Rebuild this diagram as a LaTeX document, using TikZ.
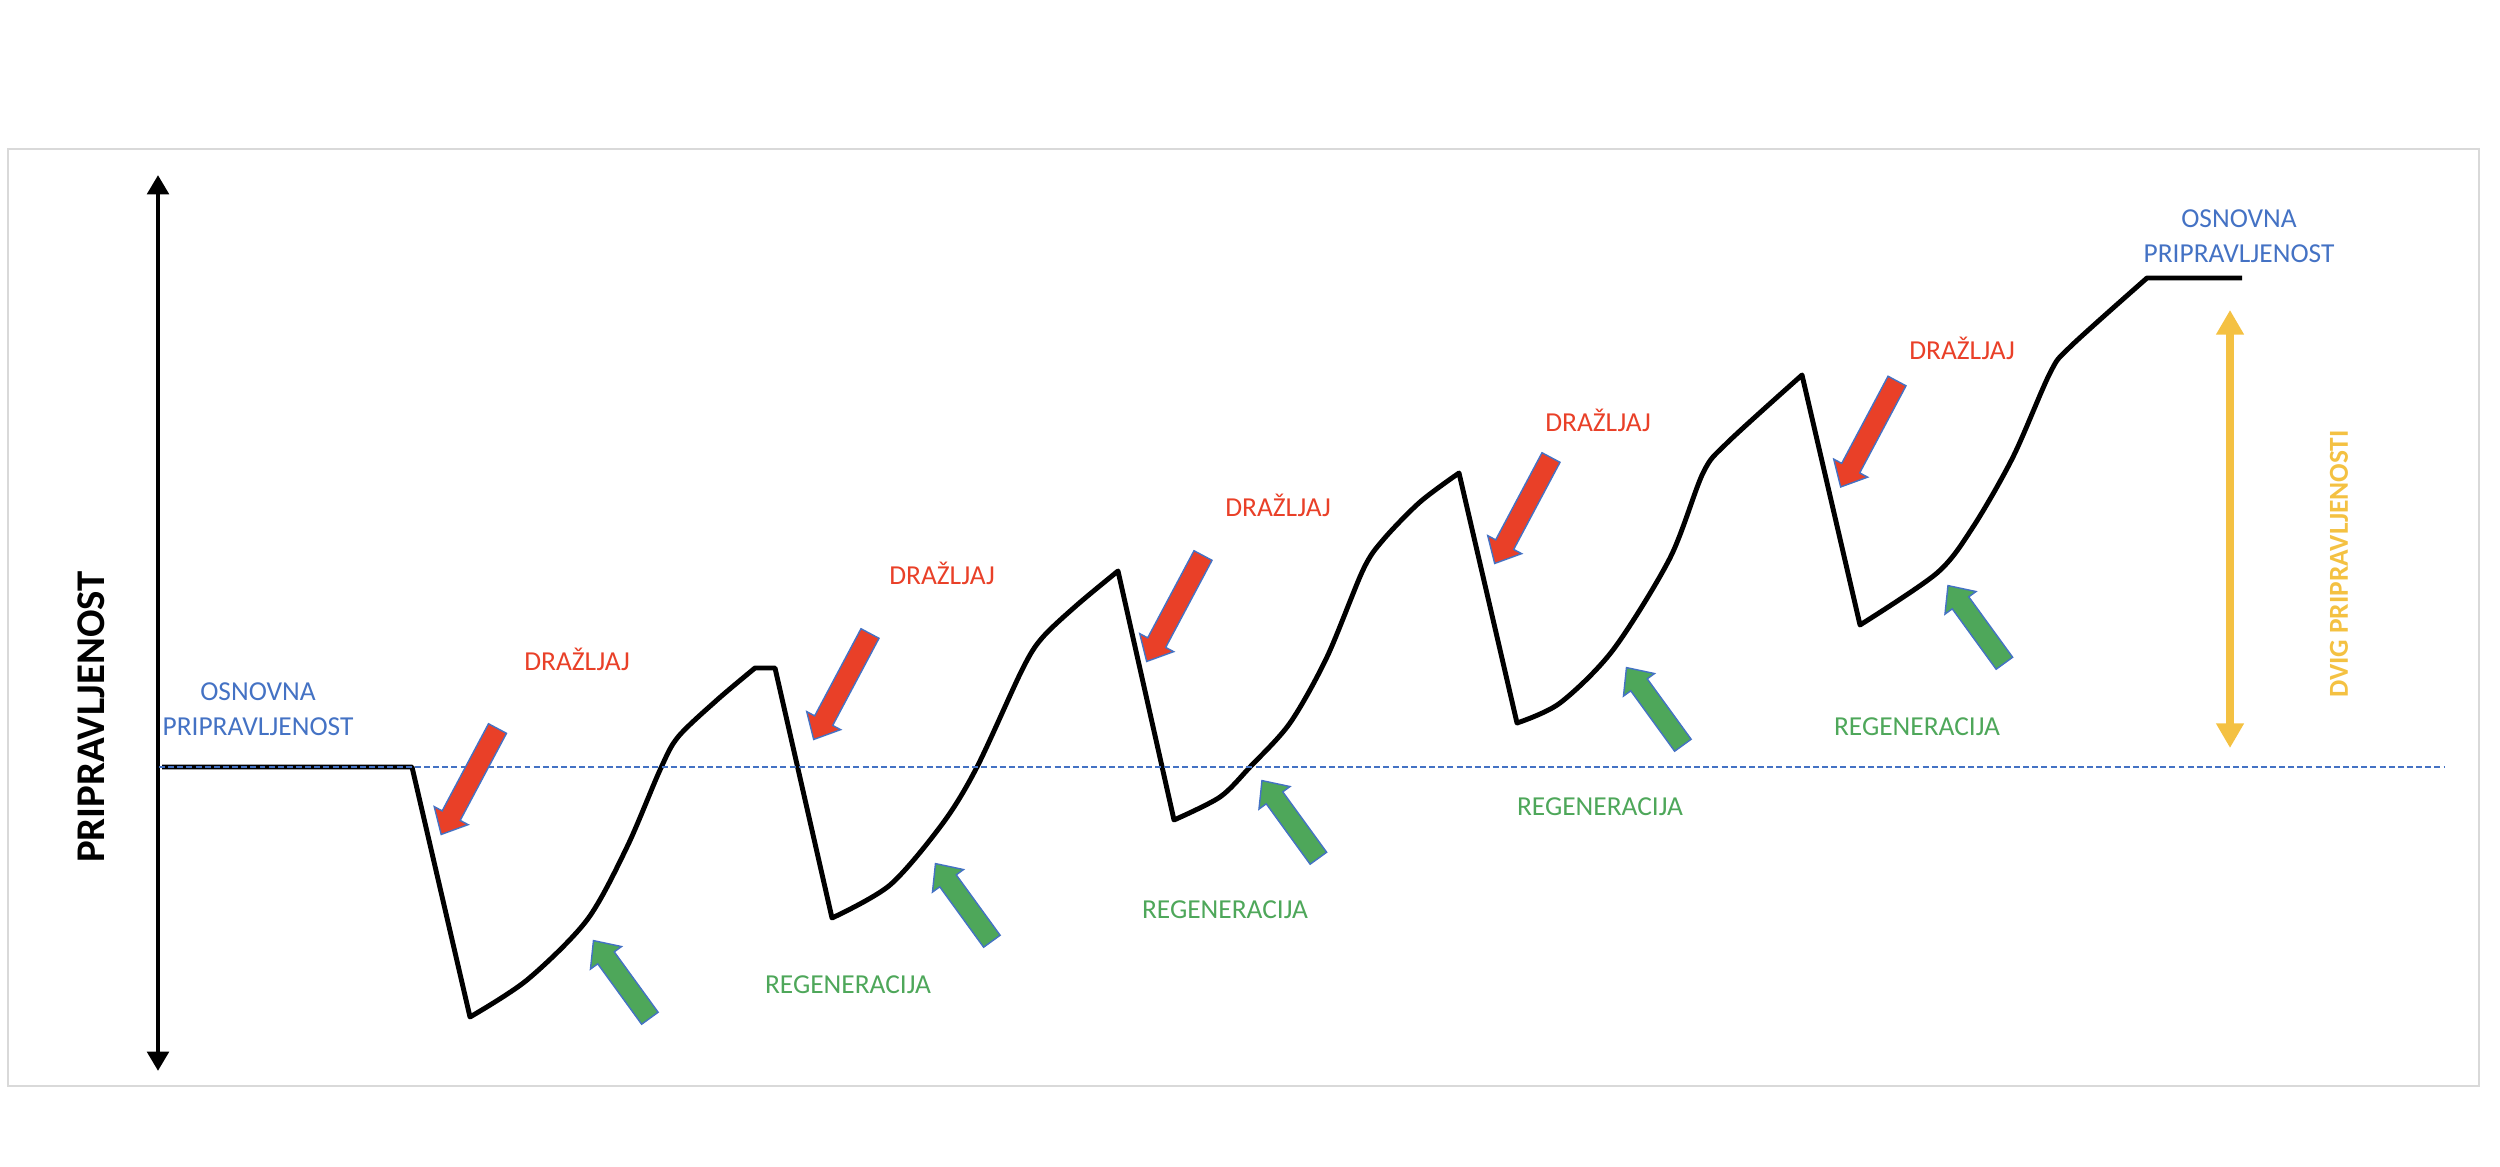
\documentclass[tikz,border=0pt]{standalone}
\usepackage{fontspec}
\setmainfont{Carlito}
\usetikzlibrary{arrows.meta,shapes.arrows}
\definecolor{baseblue}{HTML}{4472C4}
\definecolor{stimred}{HTML}{E94028}
\definecolor{regengreen}{HTML}{4EA75A}
\definecolor{liftyellow}{HTML}{F4C142}
\definecolor{framegray}{HTML}{D9D9D9}

\begin{document}
\begin{tikzpicture}[x=1cm,y=1cm]
  \tikzstyle{lbl}=[inner sep=0pt, font=\fontsize{7.8}{10}\selectfont, align=center]
  \tikzstyle{blockarrow}=[single arrow, draw=baseblue, line width=0.4pt, inner xsep=0pt, inner ysep=0.095cm,
    single arrow head extend=0.09cm, single arrow tip angle=84]
  \tikzstyle{stim}=[blockarrow, fill=stimred, rotate=242, minimum height=1.2cm]
  \tikzstyle{regen}=[blockarrow, fill=regengreen, rotate=126, minimum height=0.96cm]

  \useasboundingbox (0,0) rectangle (25,11.66);
  \draw[framegray, line width=0.8pt] (0.08,0.80) rectangle (24.79,10.17);

  \coordinate (ytop) at (1.58,9.91);
  \coordinate (ybot) at (1.58,0.95);
  \coordinate (basel) at (1.59,3.99);
  \coordinate (baser) at (24.45,3.99);
  \coordinate (lifttop) at (22.30,8.56);
  \coordinate (liftbot) at (22.30,4.18);

  \draw[line width=1.4pt, {Triangle[width=6pt,length=5.5pt]}-{Triangle[width=6pt,length=5.5pt]}] (ytop) -- (ybot);
  \node[font=\fontsize{11.6}{14}\selectfont\bfseries, rotate=90, inner sep=0pt] (ylabel) at (0.91,4.49) {PRIPRAVLJENOST};

  \draw[line width=1.4pt, line join=round] (1.62,3.99) -- (4.12,3.99) -- (4.70,1.49)
    -- plot[smooth, tension=0.5] coordinates {(4.70,1.49) (5.27,1.86) (5.87,2.46) (6.27,3.19) (6.60,3.96) (6.78,4.29) (7.17,4.66) (7.55,4.98)}
    -- (7.75,4.98) -- (8.32,2.48)
    -- plot[smooth, tension=0.5] coordinates {(8.32,2.48) (8.90,2.81) (9.43,3.43) (9.77,3.99) (10.22,4.96) (10.42,5.28) (10.77,5.61) (11.18,5.95)}
    -- (11.74,3.46)
    -- plot[smooth, tension=0.5] coordinates {(11.74,3.46) (12.20,3.69) (12.50,3.99) (12.90,4.43) (13.27,5.09) (13.63,5.96) (13.83,6.26) (14.20,6.64) (14.59,6.93)}
    -- (15.17,4.43)
    -- plot[smooth, tension=0.5] coordinates {(15.17,4.43) (15.60,4.63) (16.13,5.16) (16.70,6.08) (17.03,6.93) (17.27,7.23) (18.02,7.91)}
    -- (18.60,5.41)
    -- plot[smooth, tension=0.5] coordinates {(18.60,5.41) (19.37,5.93) (19.73,6.39) (20.13,7.09) (20.50,7.93) (20.70,8.19) (21.47,8.88)}
    -- (22.42,8.88);

  \draw[baseblue, line width=0.45pt, dash pattern=on 1.7pt off 0.9pt] (basel) -- (baser);

  \draw[liftyellow, line width=2.3pt, {Triangle[width=7.5pt,length=7pt]}-{Triangle[width=7.5pt,length=7pt]}] (lifttop) -- (liftbot);
  \node[lbl, text=liftyellow, font=\fontsize{7.8}{10}\selectfont\bfseries, rotate=90] (lift) at (23.39,6.02) {DVIG PRIPRAVLJENOSTI};

  \node[lbl, text=baseblue] (base0) at (2.58,4.565) {OSNOVNA\\PRIPRAVLJENOST};
  \node[lbl, text=baseblue] (base1) at (22.39,9.30) {OSNOVNA\\PRIPRAVLJENOST};

  \node[lbl, text=stimred] (dr1) at (5.77,5.07) {DRAŽLJAJ};
  \node[lbl, text=stimred] (dr2) at (9.42,5.93) {DRAŽLJAJ};
  \node[lbl, text=stimred] (dr3) at (12.78,6.61) {DRAŽLJAJ};
  \node[lbl, text=stimred] (dr4) at (15.98,7.46) {DRAŽLJAJ};
  \node[lbl, text=stimred] (dr5) at (19.62,8.18) {DRAŽLJAJ};

  \node[lbl, text=regengreen] (rg1) at (8.48,1.81) {REGENERACIJA};
  \node[lbl, text=regengreen] (rg2) at (12.25,2.56) {REGENERACIJA};
  \node[lbl, text=regengreen] (rg3) at (16.00,3.59) {REGENERACIJA};
  \node[lbl, text=regengreen] (rg4) at (19.17,4.39) {REGENERACIJA};

  \node[stim] (s1) at (4.72,3.895) {};
  \node[stim] (s2) at (8.445,4.845) {};
  \node[stim] (s3) at (11.775,5.625) {};
  \node[stim] (s4) at (15.255,6.605) {};
  \node[stim] (s5) at (18.715,7.37) {};

  \node[regen] (r1) at (6.25,1.82) {};
  \node[regen] (r2) at (9.67,2.59) {};
  \node[regen] (r3) at (12.935,3.42) {};
  \node[regen] (r4) at (16.58,4.55) {};
  \node[regen] (r5) at (19.795,5.37) {};
\end{tikzpicture}
\end{document}
